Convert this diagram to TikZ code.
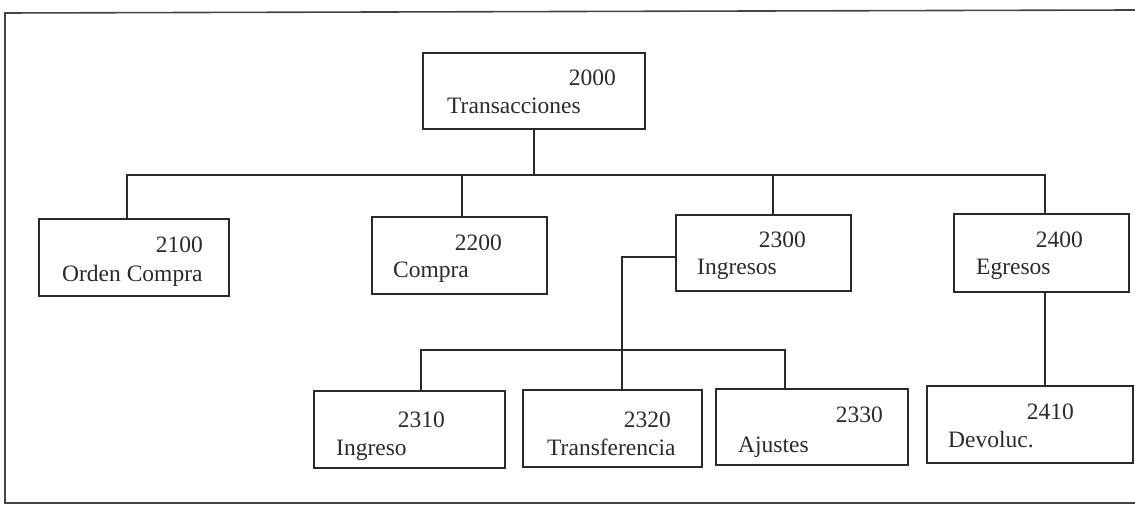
\documentclass[tikz,border=0pt]{standalone}
\usepackage{fontspec}
\setmainfont{Liberation Serif}
\definecolor{ink}{HTML}{2A2A2A}
\definecolor{framec}{HTML}{444444}
\tikzset{
  box/.style={draw=ink, line width=1.2pt, inner sep=0pt, fill=none},
  wire/.style={draw=ink, line width=1.1pt},
  frameline/.style={draw=framec, line width=1.6pt},
  txt/.style={inner sep=0pt, text=ink, font=\fontsize{23.5}{25}\selectfont},
  num/.style={txt, anchor=base east},
  lab/.style={txt, anchor=base west}
}
\begin{document}
\begin{tikzpicture}[x=1pt,y=1pt]
\useasboundingbox (0,0) rectangle (1135,509);
% outer frame
\coordinate (fTR) at (1135,499);
\coordinate (fTL) at (5,496);
\coordinate (fBL) at (5,6);
\coordinate (fBR) at (1135,6);
\draw[frameline] (fTR) -- (fTL) -- (fBL) -- (fBR);

% boxes
\node[box, minimum width=222pt, minimum height=76pt] (b2000) at (534,418) {};
\node[box, minimum width=190pt, minimum height=77pt] (b2100) at (134,251.5) {};
\node[box, minimum width=175pt, minimum height=77pt] (b2200) at (459.5,253.5) {};
\node[box, minimum width=175pt, minimum height=76pt] (b2300) at (763.5,256) {};
\node[box, minimum width=175pt, minimum height=78pt] (b2400) at (1041.5,256) {};
\node[box, minimum width=191pt, minimum height=77pt] (b2310) at (409.5,79.5) {};
\node[box, minimum width=179pt, minimum height=77pt] (b2320) at (612.5,80.5) {};
\node[box, minimum width=192pt, minimum height=76pt] (b2330) at (812,82) {};
\node[box, minimum width=206pt, minimum height=77pt] (b2410) at (1030,84.5) {};

% texts
\node[num] (n2000) at (616,423) {2000};
\node[lab] (l2000) at (447,395) {Transacciones};
\node[num] (n2100) at (203,256) {2100};
\node[lab] (l2100) at (62,227) {Orden Compra};
\node[num] (n2200) at (502,258) {2200};
\node[lab] (l2200) at (393,231) {Compra};
\node[num] (n2300) at (806,261) {2300};
\node[lab] (l2300) at (697,234) {Ingresos};
\node[num] (n2400) at (1083,261) {2400};
\node[lab] (l2400) at (976,234) {Egresos};
\node[num] (n2310) at (445,82) {2310};
\node[lab] (l2310) at (336,54) {Ingreso};
\node[num] (n2320) at (671,82) {2320};
\node[lab] (l2320) at (547,54) {Transferencia};
\node[num] (n2330) at (883,87) {2330};
\node[lab] (l2330) at (738,57) {Ajustes};
\node[num] (n2410) at (1074,90) {2410};
\node[lab] (l2410) at (948,62) {Devoluc.};

% top-level bus
\coordinate (d1) at (127,334);
\coordinate (d2) at (462,334);
\coordinate (d3) at (773,334);
\coordinate (d4) at (1045,334);
\draw[wire] (b2000.south) -- (b2000.south |- d1);
\draw[wire] (d1 |- b2100.north) -- (d1) -- (d4) -- (d4 |- b2400.north);
\draw[wire] (d2) -- (d2 |- b2200.north);
\draw[wire] (d3) -- (d3 |- b2300.north);

% 2300 subtree
\coordinate (s) at (622,252);
\coordinate (sbL) at (421,159);
\coordinate (sbR) at (785,159);
\draw[wire] (b2300.west |- s) -- (s) -- (s |- b2320.north);
\draw[wire] (sbL |- b2310.north) -- (sbL) -- (sbR) -- (sbR |- b2330.north);

% 2400 subtree
\coordinate (e) at (1045,200);
\draw[wire] (b2400.south -| e) -- (b2410.north -| e);
\end{tikzpicture}
\end{document}
